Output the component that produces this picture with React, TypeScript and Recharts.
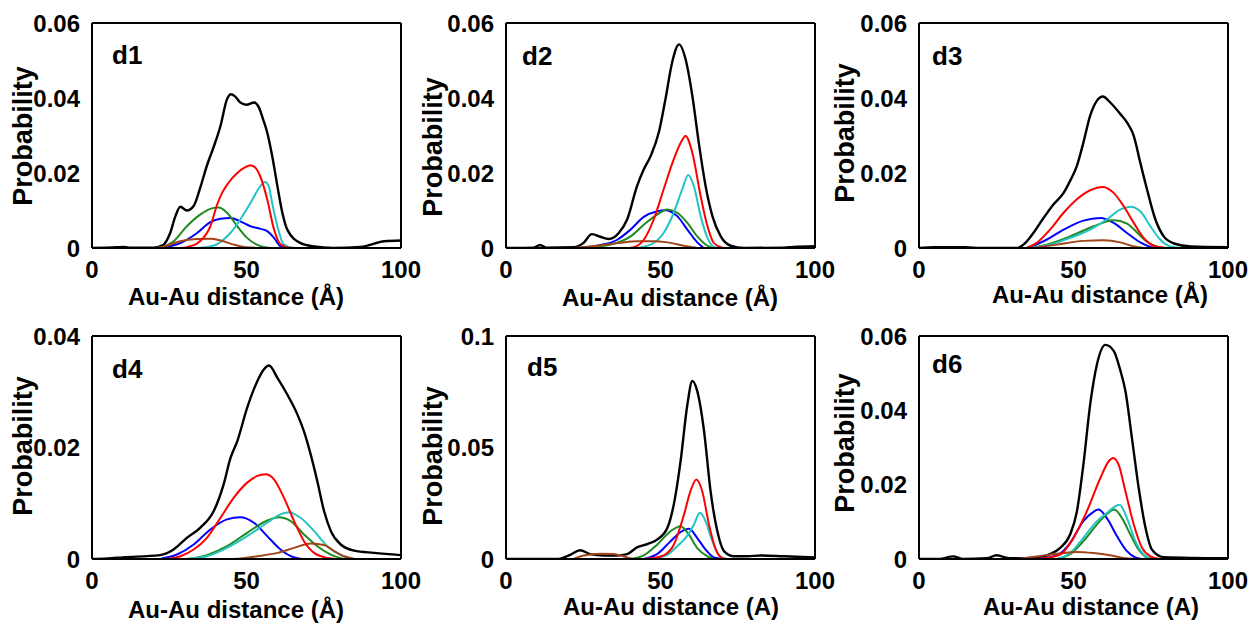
import { LineChart, Line, XAxis, YAxis, ReferenceLine } from 'recharts';

type Pt = [number, number];

// d1
const d1Black: Pt[] = [[0,0],[8,0.0002],[10,0.0003],[12,0.0001],[20,0.0001],[23,0.0008],[25.3,0.004],[27,0.0085],[28.6,0.011],[30.7,0.010],[32.9,0.0112],[35,0.016],[37.2,0.022],[39.4,0.027],[41.6,0.0326],[43.7,0.0397],[45,0.041],[46.2,0.0405],[48,0.0388],[50,0.0382],[52.5,0.0388],[54,0.0375],[55.5,0.034],[56.7,0.0308],[58.3,0.0246],[60,0.0165],[61.6,0.0094],[63.2,0.0049],[67.5,0.0013],[71.9,0.0004],[78,0],[87,0.0003],[94.6,0.0018],[100,0.002]];
const d1Red: Pt[] = [[28,0],[31,0.0003],[34,0.0012],[37.2,0.004],[38.3,0.0058],[40.5,0.0116],[42.1,0.0147],[44,0.0172],[47,0.020],[49.5,0.0215],[51.3,0.0221],[53,0.0213],[54.5,0.019],[56.7,0.013],[58.9,0.005],[61,0.001],[64,0.0001],[70,0]];
const d1Cyan: Pt[] = [[34,0],[38,0.0004],[40.5,0.001],[42.5,0.0022],[44.8,0.004],[48,0.0076],[51.3,0.012],[54.5,0.0165],[56,0.0176],[57.2,0.0165],[58.3,0.012],[60,0.0058],[62,0.001],[65,0]];
const d1Green: Pt[] = [[22,0],[24,0.0006],[26.4,0.0018],[30.7,0.0058],[35,0.0089],[39.4,0.0107],[41,0.0108],[43.7,0.0094],[47,0.0058],[50.2,0.0027],[54.5,0.0005],[58,0]];
const d1Blue: Pt[] = [[23,0],[25,0.0004],[28.6,0.0013],[34,0.004],[38.3,0.0069],[41.6,0.0078],[44.8,0.008],[48,0.0071],[51.3,0.0058],[54.5,0.0051],[56.7,0.0045],[58.9,0.0027],[61,0.0004],[63,0]];
const d1Brown: Pt[] = [[19,0],[22,0.0002],[24.2,0.0006],[28.6,0.0018],[34,0.0024],[38.3,0.0025],[41.6,0.002],[45.9,0.0009],[50,0.0002],[55,0]];

// d2
const d2Black: Pt[] = [[0,0],[9,0.0001],[11,0.0008],[13,0.0001],[22,0.0002],[25,0.0013],[27.8,0.0037],[30.5,0.003],[33.2,0.0024],[36.5,0.004],[39.2,0.0076],[42.4,0.0165],[44.6,0.021],[46.8,0.0245],[49.5,0.031],[51.6,0.0397],[53.8,0.0496],[56,0.0543],[58.1,0.0504],[60.3,0.0406],[62.4,0.028],[64.6,0.0165],[66.8,0.0085],[69.5,0.0031],[72.7,0.0006],[77,0],[90,0.0001],[93,0.0003],[100,0.0005]];
const d2Red: Pt[] = [[40,0],[42.5,0.0006],[44.6,0.0022],[47.8,0.0076],[51,0.0156],[54.3,0.0237],[56.5,0.028],[58.1,0.0299],[60.3,0.0254],[63,0.0138],[65.2,0.0058],[67.3,0.0013],[70.5,0]];
const d2Cyan: Pt[] = [[42,0],[46.8,0.0009],[51,0.004],[54.3,0.0094],[57,0.0156],[59,0.0195],[60.8,0.0165],[63,0.0085],[65.2,0.0027],[67.3,0.0003],[69,0]];
const d2Green: Pt[] = [[25,0],[33.8,0.0009],[40.3,0.0031],[44.6,0.0062],[48.9,0.0089],[52.2,0.0103],[55.4,0.0094],[58.7,0.0067],[61.9,0.0031],[65.2,0.0006],[67.3,0]];
const d2Blue: Pt[] = [[23,0],[29.4,0.0006],[36,0.0022],[40.3,0.0049],[44.6,0.0083],[48.9,0.0098],[51.5,0.0101],[55.4,0.0085],[58.7,0.0049],[61.9,0.0015],[64,0]];
const d2Brown: Pt[] = [[22,0],[29.4,0.0006],[36,0.0013],[42.4,0.0018],[47.8,0.0018],[52.2,0.0015],[57.6,0.0006],[62,0]];

// d3
const d3Black: Pt[] = [[0,0],[5,0.0002],[15,0.0002],[20,0],[31.6,0],[33.8,0.0009],[37,0.004],[40.3,0.008],[43.5,0.0116],[46.8,0.0147],[48.9,0.0179],[51.1,0.0219],[53.2,0.0281],[55.4,0.0353],[57.6,0.0393],[59.5,0.0404],[61.9,0.0388],[65.2,0.0357],[67.3,0.0335],[69.5,0.0299],[71.6,0.0228],[73.8,0.0156],[76.5,0.0076],[79.2,0.0031],[82.5,0.0012],[87.9,0.0004],[100,0.0002]];
const d3Red: Pt[] = [[34.8,0],[38,0.0013],[42.4,0.0049],[46.8,0.0094],[51.1,0.013],[55.4,0.0154],[59.5,0.0163],[63,0.0147],[66.2,0.0112],[69.5,0.0067],[72.7,0.0027],[76,0.0006],[80,0]];
const d3Cyan: Pt[] = [[35.9,0],[42.4,0.0009],[48.9,0.0027],[55.4,0.0049],[60.8,0.0076],[65.2,0.0103],[68.4,0.011],[71.6,0.0098],[74.9,0.0058],[78.1,0.0022],[81.4,0.0004],[85,0]];
const d3Green: Pt[] = [[35.9,0],[41.3,0.0009],[48.9,0.0031],[56.5,0.0058],[63,0.0074],[67.3,0.0065],[70.5,0.0042],[73.5,0.0018],[76.5,0.0005],[80,0]];
const d3Blue: Pt[] = [[34.8,0],[40.3,0.0018],[46.8,0.0049],[53.2,0.0073],[58.7,0.008],[63,0.0067],[67.3,0.004],[71.6,0.0015],[74.9,0.0003],[77,0]];
const d3Brown: Pt[] = [[37,0],[44.6,0.0009],[53.2,0.0019],[59.7,0.0021],[65.2,0.0015],[69.5,0.0004],[73,0]];

// d4
const d4Black: Pt[] = [[0,0],[5,0.0001],[10,0.0003],[22,0.0007],[26.4,0.0017],[30.7,0.0038],[35,0.0056],[39.4,0.0086],[42.6,0.0134],[44.8,0.0181],[47,0.0211],[50.2,0.0271],[53.5,0.0319],[55.6,0.034],[57.3,0.0347],[60,0.0325],[63.2,0.0295],[66.5,0.0259],[68.6,0.0229],[70.8,0.0187],[72.9,0.014],[75.1,0.0086],[77.3,0.005],[80.5,0.0026],[84.8,0.0015],[91.3,0.0011],[100,0.0007]];
const d4Red: Pt[] = [[24,0],[28.6,0.0005],[32.9,0.0017],[37.2,0.0038],[41.6,0.0074],[45.9,0.011],[50.2,0.0137],[53.5,0.0149],[56.2,0.0152],[58.9,0.0143],[62.1,0.011],[65.4,0.0068],[68.6,0.0032],[71.9,0.0011],[76.2,0.0002],[80,0]];
const d4Cyan: Pt[] = [[30.7,0],[37.2,0.0005],[43.7,0.002],[50.2,0.0041],[56.7,0.0065],[61,0.008],[63.7,0.0084],[67.5,0.0074],[71.9,0.005],[76.2,0.0023],[80.5,0.0007],[84.8,0]];
const d4Green: Pt[] = [[30.7,0],[37.2,0.0007],[43.7,0.0023],[50.2,0.0047],[56.7,0.0069],[60.5,0.0075],[64.3,0.0068],[68.6,0.0044],[72.9,0.0023],[77.3,0.0008],[81.6,0]];
const d4Blue: Pt[] = [[22,0],[27.5,0.0008],[32.9,0.0026],[38.3,0.0053],[43.7,0.0071],[48,0.0075],[52.4,0.0065],[56.7,0.0041],[61,0.0017],[64.3,0.0005],[68,0]];
const d4Brown: Pt[] = [[45.9,0],[53.5,0.0005],[60,0.0011],[65.4,0.002],[70.8,0.0028],[75.1,0.0025],[78.4,0.0014],[81.6,0.0005],[85,0]];

// d5
const d5Black: Pt[] = [[0,0],[16.5,0],[20.8,0.0019],[24,0.0039],[27.3,0.0022],[31.6,0.0016],[36,0.0016],[39.2,0.0022],[42.4,0.0052],[45.7,0.0067],[48.9,0.0087],[52.2,0.0139],[54.3,0.0244],[56.5,0.0439],[58.7,0.0693],[60.3,0.0798],[61.9,0.0753],[64.1,0.0573],[66.2,0.0304],[68.4,0.0124],[70.6,0.0034],[73.8,0.0012],[78,0.0012],[82.5,0.0016],[90,0.0012],[100,0.0007]];
const d5Red: Pt[] = [[44.6,0],[48,0.0005],[51,0.0016],[54.3,0.0064],[57.6,0.0199],[59.7,0.0304],[61.6,0.0356],[63.5,0.0304],[65.7,0.0154],[67.9,0.0042],[70,0.0004],[72,0]];
const d5Cyan: Pt[] = [[46.8,0],[52.2,0.0019],[55.4,0.0057],[58.7,0.0105],[60.8,0.0154],[62.8,0.0207],[64.6,0.0169],[66.8,0.0079],[68.9,0.0019],[71,0]];
const d5Green: Pt[] = [[40.3,0],[44.6,0.0016],[48.9,0.0064],[53.2,0.0124],[56.5,0.0147],[59.2,0.0109],[61.9,0.0049],[65.2,0.0012],[67.3,0]];
const d5Blue: Pt[] = [[44.6,0],[48.9,0.0022],[53.2,0.0079],[56.5,0.0121],[59.2,0.0136],[61.9,0.0094],[64.6,0.0042],[67.3,0.0007],[70,0]];
const d5Brown: Pt[] = [[21.9,0],[25.1,0.0016],[30.5,0.0024],[34.8,0.0022],[38,0.0012],[41.3,0],[75,0]];

// d6
const d6Black: Pt[] = [[0,0],[6.7,0],[11,0.0007],[14.3,0],[22,0.0002],[25.1,0.001],[29.4,0.0002],[38,0.0003],[42.4,0.0013],[45.7,0.003],[48.9,0.0066],[51.1,0.0128],[53.2,0.0254],[55.4,0.0416],[57.6,0.0524],[60.3,0.0576],[63,0.056],[65.2,0.0506],[66.8,0.0452],[68.9,0.0326],[71.1,0.0191],[73.3,0.0084],[75.4,0.0025],[79.2,0.0005],[100,0.0002]];
const d6Red: Pt[] = [[36,0],[40.3,0.0002],[45.7,0.0012],[50,0.0057],[54.3,0.0128],[58.7,0.0218],[61.4,0.0263],[62.8,0.0272],[64.6,0.0254],[66.8,0.0182],[69.5,0.0093],[72.2,0.003],[74.9,0.0007],[78,0]];
const d6Cyan: Pt[] = [[44.6,0],[48.9,0.0016],[53.2,0.0057],[57.6,0.0102],[60.8,0.0124],[63,0.0139],[64.9,0.0146],[67.3,0.011],[70,0.0048],[72.7,0.0012],[75,0]];
const d6Green: Pt[] = [[44.6,0],[48.9,0.0013],[53.2,0.0048],[57.6,0.0093],[60.8,0.0121],[63.2,0.0133],[65.7,0.011],[68.4,0.0066],[71.1,0.0025],[73.8,0.0004],[76,0]];
const d6Blue: Pt[] = [[38,0],[44.6,0.001],[48.9,0.0043],[53.2,0.0102],[56,0.0124],[58.1,0.0133],[60.8,0.011],[64.1,0.0061],[67.3,0.0021],[70,0.0004],[72,0]];
const d6Brown: Pt[] = [[31.6,0],[38,0.0007],[44.6,0.0014],[51.1,0.0019],[56.5,0.0016],[61.9,0.001],[66.2,0.0003],[70,0]];

const xTicks = [0, 50, 100];
const yTicks6 = [0, 0.02, 0.04, 0.06];
const yTicks4 = [0, 0.02, 0.04];
const yTicks10 = [0, 0.05, 0.1];

const COLORS = {
  blue: '#0000ff',
  green: '#1f8a1f',
  cyan: '#22c4c4',
  brown: '#a0441a',
  red: '#ff0000',
  black: '#000000',
};

const FONT = '"Liberation Sans", Arial, Helvetica, sans-serif';

interface Panel {
  tag: string;
  curves: { black: Pt[]; red: Pt[]; cyan: Pt[]; green: Pt[]; blue: Pt[]; brown: Pt[] };
  yTicks: number[];
  xLabel: string;
  plotLeft: number;
  plotTop: number;
  plotH: number;
  xLabelPos: [number, number];
  yLabelPos: [number, number];
  tagPos: [number, number];
}

const panels: Panel[] = [
  { tag: 'd1', curves: { black: d1Black, red: d1Red, cyan: d1Cyan, green: d1Green, blue: d1Blue, brown: d1Brown }, yTicks: yTicks6, xLabel: 'Au-Au distance (Å)', plotLeft: 92, plotTop: 24, plotH: 224, xLabelPos: [236, 285], yLabelPos: [23, 136], tagPos: [112, 42] },
  { tag: 'd2', curves: { black: d2Black, red: d2Red, cyan: d2Cyan, green: d2Green, blue: d2Blue, brown: d2Brown }, yTicks: yTicks6, xLabel: 'Au-Au distance (Å)', plotLeft: 506, plotTop: 24, plotH: 224, xLabelPos: [670, 286], yLabelPos: [433, 147], tagPos: [522, 43] },
  { tag: 'd3', curves: { black: d3Black, red: d3Red, cyan: d3Cyan, green: d3Green, blue: d3Blue, brown: d3Brown }, yTicks: yTicks6, xLabel: 'Au-Au distance (Å)', plotLeft: 919, plotTop: 24, plotH: 224, xLabelPos: [1100, 283], yLabelPos: [845, 133], tagPos: [932, 43] },
  { tag: 'd4', curves: { black: d4Black, red: d4Red, cyan: d4Cyan, green: d4Green, blue: d4Blue, brown: d4Brown }, yTicks: yTicks4, xLabel: 'Au-Au distance (Å)', plotLeft: 92, plotTop: 337, plotH: 222, xLabelPos: [236, 598], yLabelPos: [23, 446], tagPos: [112, 356] },
  { tag: 'd5', curves: { black: d5Black, red: d5Red, cyan: d5Cyan, green: d5Green, blue: d5Blue, brown: d5Brown }, yTicks: yTicks10, xLabel: 'Au-Au distance (A)', plotLeft: 506, plotTop: 337, plotH: 222, xLabelPos: [671, 595], yLabelPos: [433, 456], tagPos: [527, 354] },
  { tag: 'd6', curves: { black: d6Black, red: d6Red, cyan: d6Cyan, green: d6Green, blue: d6Blue, brown: d6Brown }, yTicks: yTicks6, xLabel: 'Au-Au distance (A)', plotLeft: 919, plotTop: 337, plotH: 222, xLabelPos: [1091, 595], yLabelPos: [845, 443], tagPos: [932, 351] },
];

const toRows = (pts: Pt[]) => pts.map(([x, y]) => ({ x, y }));

const SERIES_ORDER: (keyof Panel['curves'])[] = ['black', 'blue', 'green', 'cyan', 'brown', 'red'];

function PanelChart({ p }: { p: Panel }) {
  const plotW = 308;
  const yMax = p.yTicks[p.yTicks.length - 1];
  const tickStyle = { fontSize: 24, fontWeight: 'bold', fill: '#000', fontFamily: FONT };
  const frame = { stroke: '#000', strokeWidth: 2 };
  return (
    <>
      <div style={{ position: 'absolute', left: p.plotLeft - 92, top: p.plotTop - 24 }}>
        <LineChart width={92 + plotW + 28} height={24 + p.plotH + 44} margin={{ top: 23, right: 27, bottom: 0, left: 0 }}>
          <XAxis type="number" dataKey="x" domain={[0, 100]} ticks={xTicks} interval={0} height={44}
            tickLine={false} tickMargin={7} axisLine={frame} tick={tickStyle} allowDataOverflow />
          <XAxis xAxisId="top" orientation="top" type="number" dataKey="x" domain={[0, 100]} ticks={xTicks} interval={0} height={1}
            mirror tick={false} tickSize={5} tickLine={{ stroke: '#000', strokeWidth: 1.5 }} axisLine={frame} allowDataOverflow />
          <YAxis type="number" domain={[0, yMax]} ticks={p.yTicks} interval={0} width={92}
            tickLine={false} tickMargin={6} axisLine={frame} tick={tickStyle} allowDataOverflow />
          <YAxis yAxisId="right" orientation="right" type="number" domain={[0, yMax]} ticks={p.yTicks} interval={0} width={1}
            mirror tick={false} tickSize={5} tickLine={{ stroke: '#000', strokeWidth: 1.5 }} axisLine={frame} allowDataOverflow />
          <ReferenceLine y={yMax} stroke="#000" strokeWidth={2} />
          <ReferenceLine x={100} stroke="#000" strokeWidth={2} />
          {SERIES_ORDER.map((k) => (
            <Line key={k} data={toRows(p.curves[k])} dataKey="y" type="monotone" stroke={COLORS[k]}
              strokeWidth={k === 'black' ? 2.4 : 2} dot={false} activeDot={false} isAnimationActive={false} />
          ))}
          <Line xAxisId="top" yAxisId="right" data={toRows(p.curves.black)} dataKey="y" stroke="none" dot={false} activeDot={false} isAnimationActive={false} />
        </LineChart>
      </div>
      <div style={{ position: 'absolute', left: p.xLabelPos[0], top: p.xLabelPos[1], transform: 'translateX(-50%)', fontSize: 24, lineHeight: 1, whiteSpace: 'nowrap' }}>
        {p.xLabel}
      </div>
      <div style={{ position: 'absolute', left: p.yLabelPos[0], top: p.yLabelPos[1], transform: 'translate(-50%, -50%) rotate(-90deg)', fontSize: 27, lineHeight: 1, whiteSpace: 'nowrap' }}>
        Probability
      </div>
      <div style={{ position: 'absolute', left: p.tagPos[0], top: p.tagPos[1], fontSize: 26, lineHeight: 1 }}>
        {p.tag}
      </div>
    </>
  );
}

export default function App() {
  return (
    <div style={{ position: 'absolute', left: 0, top: 0, width: 1252, height: 623, background: '#fff', fontFamily: FONT, fontWeight: 'bold', color: '#000', overflow: 'hidden' }}>
      {panels.map((p) => (
        <PanelChart key={p.tag} p={p} />
      ))}
    </div>
  );
}
